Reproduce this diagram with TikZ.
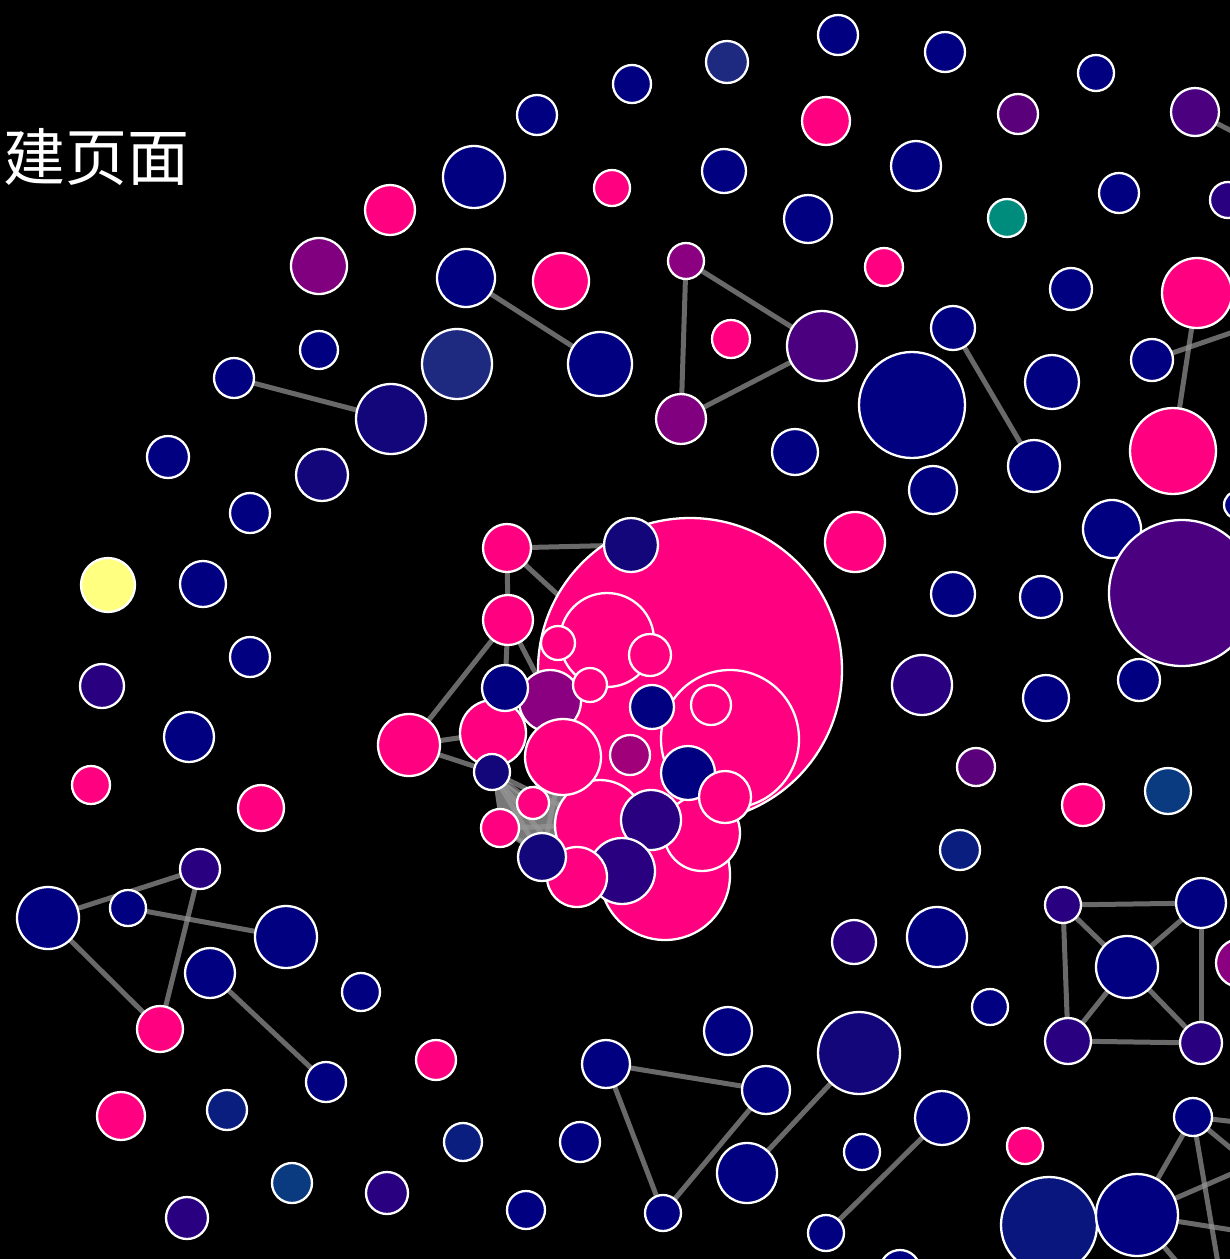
\documentclass[tikz,border=0pt]{standalone}
\usepackage{fontspec}
\newfontfamily\cjk{Noto Sans CJK SC}
\pgfdeclarelayer{back}
\pgfdeclarelayer{edges}
\pgfsetlayers{back,edges,main}
\definecolor{nv}{RGB}{0,0,128}
\definecolor{nvb}{RGB}{18,6,122}
\definecolor{pk}{RGB}{255,0,128}
\definecolor{pu}{RGB}{128,0,128}
\definecolor{ind}{RGB}{75,0,128}
\definecolor{indd}{RGB}{40,0,128}
\definecolor{pul}{RGB}{90,0,122}
\definecolor{slate}{RGB}{30,42,128}
\definecolor{teal}{RGB}{0,140,125}
\definecolor{yel}{RGB}{255,255,128}
\definecolor{steel}{RGB}{10,58,128}
\definecolor{steelb}{RGB}{10,30,128}
\definecolor{nvc}{RGB}{8,22,126}
\definecolor{mag}{RGB}{139,0,128}
\definecolor{magl}{RGB}{160,0,122}
\definecolor{edgec}{RGB}{150,150,150}
\tikzset{
  cc/.style={circle,draw=white,line width=2.3pt,inner sep=0pt,outer sep=0pt},
  ln/.style={draw=edgec,draw opacity=0.7,line width=5pt},
  glow/.style={fill=edgec,fill opacity=0.8},
}
\newcommand\Cn[5]{\node[cc,fill=#5,minimum size=#4*2pt] (#1) at (#2,#3) {};}
\begin{document}
\begin{tikzpicture}[x=1pt,y=-1pt]
\begin{pgfonlayer}{back}
\fill[black] (0,0) rectangle (1230,1259);
\end{pgfonlayer}
\useasboundingbox (0,0) rectangle (1230,1259);
% title
\node[font=\cjk\fontsize{62}{62}\selectfont,text=white,anchor=base west,inner sep=0pt] (title) at (3,180) {建页面};
% top region
\Cn{n1}{838}{35}{20}{nv}
\Cn{n2}{945}{52}{20}{nv}
\Cn{n3}{727}{62}{21}{slate}
\Cn{n4}{632}{84}{19}{nv}
\Cn{n5}{1096}{73}{18}{nv}
\Cn{n6}{537}{115}{20}{nv}
\Cn{n7}{826}{121}{24}{pk}
\Cn{n8}{1018}{114}{20}{pul}
\Cn{n9}{1195}{112}{24}{ind}
\Cn{n10}{474}{177}{31}{nv}
\Cn{n11}{612}{188}{18}{pk}
\Cn{n12}{724}{171}{22}{nv}
\Cn{n13}{916}{166}{25}{nv}
\Cn{n14}{1119}{193}{20}{nv}
\Cn{n15}{1228}{200}{18}{indd}
\Cn{n16}{390}{210}{25}{pk}
\Cn{n17}{808}{219}{24}{nv}
\Cn{n18}{1007}{218}{19}{teal}
\Cn{n19}{319}{266}{28}{pu}
\Cn{n20}{466}{278}{29}{nv}
\Cn{n21}{561}{281}{28}{pk}
\Cn{n22}{686}{261}{18}{mag}
\Cn{n23}{884}{267}{19}{pk}
\Cn{n24}{1071}{289}{21}{nv}
\Cn{n25}{1197}{293}{35}{pk}
\Cn{n26}{319}{350}{19}{nv}
\Cn{n27}{457}{364}{35}{slate}
\Cn{n28}{600}{364}{32}{nv}
\Cn{n29}{731}{339}{19}{pk}
\Cn{n30}{822}{346}{35}{ind}
\Cn{n31}{953}{328}{22}{nv}
\Cn{n32}{1152}{360}{21}{nv}
\Cn{n33}{234}{378}{20}{nv}
\Cn{n34}{391}{419}{35}{nvb}
\Cn{n35}{912}{405}{53}{nv}
\Cn{n36}{1052}{382}{27}{nv}
\Cn{n37}{681}{419}{25}{pu}
\Cn{n38}{1173}{451}{43}{pk}
\Cn{n39}{168}{457}{21}{nv}
\Cn{n40}{322}{475}{26}{nvb}
\Cn{n41}{795}{452}{23}{nv}
\Cn{n42}{1034}{466}{26}{nv}
\Cn{n43}{933}{490}{24}{nv}
\Cn{n44}{250}{513}{20}{nv}
\Cn{n45}{855}{542}{30}{pk}
\Cn{n46}{1112}{529}{29}{nv}
\Cn{n104}{1238}{505}{14}{nv}
\Cn{n47}{1182}{593}{73}{ind}
\Cn{n48}{108}{585}{27}{yel}
\Cn{n49}{203}{584}{23}{nv}
\Cn{n50}{953}{594}{22}{nv}
\Cn{n51}{1041}{597}{21}{nv}
\Cn{n52}{250}{657}{20}{nv}
\Cn{n53}{102}{686}{22}{indd}
\Cn{n54}{922}{685}{30}{indd}
\Cn{n55}{1046}{698}{23}{nv}
\Cn{n56}{1139}{680}{21}{nv}
\Cn{n57}{189}{737}{25}{nv}
\Cn{n58}{976}{767}{19}{pul}
\Cn{n59}{91}{785}{19}{pk}
\Cn{n60}{1083}{805}{21}{pk}
\Cn{n61}{1168}{791}{23}{steel}
\Cn{n62}{261}{808}{23}{pk}
\Cn{n63}{960}{850}{20}{steelb}
% bottom left
\Cn{n64}{200}{869}{20}{indd}
\Cn{n65}{48}{918}{31}{nv}
\Cn{n66}{128}{908}{18}{nv}
\Cn{n67}{286}{937}{31}{nv}
\Cn{n68}{210}{973}{25}{nv}
\Cn{n75}{361}{992}{19}{nv}
\Cn{n79}{160}{1029}{23}{pk}
\Cn{n80}{436}{1060}{20}{pk}
\Cn{n83}{326}{1082}{20}{nv}
\Cn{n86}{121}{1116}{24}{pk}
\Cn{n87}{227}{1110}{20}{steelb}
\Cn{n90}{463}{1142}{19}{steelb}
\Cn{n95}{292}{1183}{20}{steel}
\Cn{n96}{387}{1193}{21}{indd}
\Cn{n97}{526}{1210}{19}{nv}
\Cn{n99}{187}{1218}{21}{indd}
% bottom middle / right
\Cn{n69}{854}{942}{22}{indd}
\Cn{n70}{937}{937}{30}{nv}
\Cn{n71}{1063}{905}{18}{indd}
\Cn{n72}{1201}{903}{25}{nv}
\Cn{n73}{1127}{967}{31}{nv}
\Cn{n74}{1240}{963}{24}{mag}
\Cn{n76}{990}{1007}{18}{nv}
\Cn{n77}{1068}{1041}{23}{indd}
\Cn{n78}{1201}{1043}{21}{indd}
\Cn{n81}{728}{1031}{24}{nv}
\Cn{n82}{859}{1053}{41}{nvb}
\Cn{n84}{606}{1064}{24}{nv}
\Cn{n85}{766}{1090}{24}{nv}
\Cn{n88}{942}{1118}{27}{nv}
\Cn{n89}{1193}{1117}{19}{nv}
\Cn{n91}{580}{1142}{20}{nv}
\Cn{n92}{862}{1152}{18}{nv}
\Cn{n93}{1025}{1146}{18}{pk}
\Cn{n94}{747}{1173}{30}{nv}
\Cn{n98}{663}{1213}{18}{nv}
\Cn{n100}{826}{1233}{18}{nv}
\Cn{n101}{1049}{1225}{48}{nvc}
\Cn{n102}{1137}{1215}{41}{nv}
\Cn{n103}{900}{1270}{20}{nv}
% central cluster
\Cn{c1}{690}{670}{152}{pk}
\Cn{c2}{607}{640}{47}{pk}
\Cn{c3}{730}{739}{69}{pk}
\Cn{c4}{665}{875}{65}{pk}
\Cn{c5}{702}{833}{38}{pk}
\Cn{c6}{600}{825}{45}{pk}
\Cn{c7}{558}{643}{17}{pk}
\Cn{c8}{650}{655}{21}{pk}
\Cn{c9}{711}{705}{20}{pk}
\Cn{c10}{493}{733}{33}{pk}
\Cn{c11}{550}{701}{31}{mag}
\Cn{c12}{505}{688}{23}{nv}
\Cn{c13}{590}{685}{17}{pk}
\Cn{c14}{652}{707}{22}{nv}
\Cn{c15}{563}{757}{38}{pk}
\Cn{c16}{630}{755}{20}{magl}
\Cn{c17}{688}{773}{27}{nv}
\Cn{c18}{725}{797}{26}{pk}
\Cn{c19}{651}{820}{30}{indd}
\Cn{c20}{492}{772}{18}{nvb}
\Cn{c21}{533}{803}{16}{pk}
\Cn{c22}{500}{828}{19}{pk}
\Cn{c23}{622}{871}{33}{indd}
\Cn{c24}{577}{877}{30}{pk}
\Cn{c25}{542}{857}{24}{nvb}
\Cn{c26}{508}{620}{25}{pk}
\Cn{c27}{507}{548}{24}{pk}
\Cn{c28}{631}{545}{27}{nvb}
\Cn{c29}{409}{745}{31}{pk}
% off-picture ends
\coordinate (o1) at (1245,138);
\coordinate (o2) at (1245,328);
\coordinate (o3) at (1245,1123);
\coordinate (o4) at (1245,1160);
\coordinate (o5) at (1220,1275);
\coordinate (o7) at (1245,1232);
\coordinate (o8) at (1188,1275);
\coordinate (o9) at (1245,1168);
\begin{pgfonlayer}{edges}
\draw[ln] (n20) -- (n28);
\draw[ln] (n22) -- (n37);
\draw[ln] (n22) -- (n30);
\draw[ln] (n37) -- (n30);
\draw[ln] (n33) -- (n34);
\draw[ln] (n31) -- (n42);
\draw[ln] (n25) -- (n38);
\draw[ln] (n32) -- (o2);
\draw[ln] (n9) -- (o1);
\draw[ln] (n65) -- (n64);
\draw[ln] (n66) -- (n67);
\draw[ln] (n65) -- (n79);
\draw[ln] (n64) -- (n79);
\draw[ln] (n68) -- (n83);
\draw[ln] (n84) -- (n85);
\draw[ln] (n84) -- (n98);
\draw[ln] (n98) -- (n85);
\draw[ln] (n94) -- (n82);
\draw[ln] (n100) -- (n88);
\draw[ln] (n71) -- (n72);
\draw[ln] (n71) -- (n77);
\draw[ln] (n77) -- (n78);
\draw[ln] (n72) -- (n78);
\draw[ln] (n73) -- (n71);
\draw[ln] (n73) -- (n72);
\draw[ln] (n73) -- (n77);
\draw[ln] (n73) -- (n78);
\draw[ln] (n89) -- (n102);
\draw[ln] (n89) -- (o3);
\draw[ln] (n89) -- (o5);
\draw[ln] (n89) -- (o4);
\draw[ln] (n102) -- (o9);
\draw[ln] (n102) -- (o7);
\draw[ln] (n102) -- (o8);
% cluster
\fill[glow] (c20.center) -- (c21.center) -- (c15.center) -- (c6.center) -- (c25.center) -- (c22.center) -- cycle;
\draw[ln] (c27) -- (c28);
\draw[ln] (c27) -- (c26);
\draw[ln] (c27) -- (c2);
\draw[ln] (c26) -- (c29);
\draw[ln] (c26) -- (c12);
\draw[ln] (c26) -- (c11);
\draw[ln] (c29) -- (c10);
\draw[ln] (c29) -- (c20);
\draw[ln] (c20) -- (c25);
\draw[ln] (c20) -- (c21);
\draw[ln] (c22) -- (c15);
\draw[ln] (c21) -- (c22);
\draw[ln] (c20) -- (c6);
\draw[ln] (c22) -- (c24);
\draw[ln] (c25) -- (c15);
\draw[ln] (c22) -- (c6);
\draw[ln] (c20) -- (c24);
\end{pgfonlayer}
\end{tikzpicture}
\end{document}
